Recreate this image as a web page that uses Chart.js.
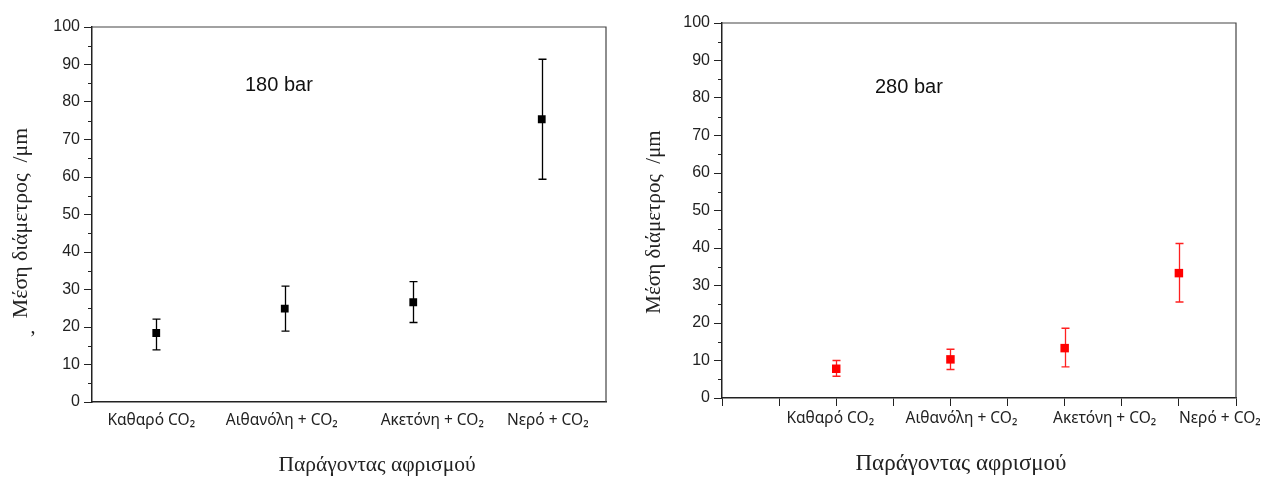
<!DOCTYPE html>
<html><head><meta charset="utf-8">
<script src="https://cdn.jsdelivr.net/npm/chart.js@4"></script>
<style>
html,body{margin:0;padding:0;background:#fff;width:1263px;height:480px;overflow:hidden}
canvas{position:absolute;top:0}
#c1{left:0}
#c2{left:630px}
</style></head><body>
<canvas id="c1" width="630" height="480"></canvas>
<canvas id="c2" width="633" height="480"></canvas>
<script>
// ---- data ----
const categories = ['Καθαρό CO₂', 'Αιθανόλη + CO₂', 'Ακετόνη + CO₂', 'Νερό + CO₂'];
const mean180 = [18.4, 24.9, 26.6, 75.4];
const low180  = [13.9, 18.9, 21.2, 59.4];
const high180 = [22.1, 30.9, 32.1, 91.4];
const mean280 = [7.8, 10.3, 13.3, 33.3];
const low280  = [5.8, 7.6, 8.3, 25.6];
const high280 = [10.0, 13.0, 18.6, 41.2];
const slots280 = [2, 4, 6, 8];          // category slot on the 280 bar axis (0..9)
const yTitle = 'Μέση διάμετρος  /μm';
const xTitle = 'Παράγοντας αφρισμού';
const panelLabels = ['180 bar', '280 bar'];

// ---- styles ----
const INK = '#222';
const labelShift180 = [-5, -3, 19, 6];     // horizontal nudge of category labels (px)
const labelShift280 = [-6, 11, 40, 41];
const SERIF = '"Liberation Serif", "Times New Roman", serif';
const SANS = '"Liberation Sans", Arial, sans-serif';
const LABEL_FONT = '15.5px "Noto Sans", "Open Sans", sans-serif';

// ---- plugins ----
const errorBars = {
  id: 'errorBars',
  beforeDatasetsDraw(chart, args, o) {
    const {ctx} = chart, ys = chart.scales.y;
    const meta = chart.getDatasetMeta(0);
    ctx.save();
    ctx.strokeStyle = o.color; ctx.lineWidth = o.width;
    meta.data.forEach((pt, i) => {
      const x = Math.round(pt.x) + 0.5;
      const yl = ys.getPixelForValue(o.low[i]), yh = ys.getPixelForValue(o.high[i]);
      ctx.beginPath();
      ctx.moveTo(x, yl); ctx.lineTo(x, yh);
      ctx.moveTo(x - o.cap, yl); ctx.lineTo(x + o.cap, yl);
      ctx.moveTo(x - o.cap, yh); ctx.lineTo(x + o.cap, yh);
      ctx.stroke();
    });
    ctx.restore();
  }
};
const frame = {
  id: 'frame',
  afterDraw(chart, args, o) {
    const {ctx, chartArea: a} = chart, ys = chart.scales.y, xs = chart.scales.x;
    ctx.save();
    ctx.strokeStyle = '#444'; ctx.lineWidth = 1.2;
    ctx.beginPath();
    ctx.moveTo(a.left, a.top); ctx.lineTo(a.right, a.top); ctx.lineTo(a.right, a.bottom);
    ctx.stroke();
    // minor ticks on y
    ctx.strokeStyle = INK; ctx.lineWidth = 1;
    ctx.beginPath();
    for (let v = 5; v < 100; v += 10) {
      const y = Math.round(ys.getPixelForValue(v)) + 0.5;
      ctx.moveTo(a.left - o.minor, y); ctx.lineTo(a.left, y);
    }
    ctx.stroke();
    // panel label
    ctx.fillStyle = '#111';
    ctx.font = '20px ' + SANS;
    ctx.textBaseline = 'middle';
    ctx.fillText(o.label, a.left + o.lx, a.top + o.ly);
    // category labels
    ctx.font = LABEL_FONT; ctx.textAlign = 'center'; ctx.fillStyle = INK;
    categories.forEach((c, i) => {
      ctx.fillText(c, xs.getPixelForValue(o.slots ? o.slots[i] : i) + o.shift[i], a.bottom + o.labelDy);
    });
    // axis titles
    ctx.fillStyle = '#222';
    ctx.font = o.xtSize + 'px ' + SERIF;
    ctx.fillText(xTitle, o.xtX, o.xtY);
    ctx.save();
    ctx.translate(o.ytX, o.ytY); ctx.rotate(-Math.PI / 2);
    ctx.font = o.ytSize + 'px ' + SERIF;
    ctx.fillText(yTitle, 0, 0);
    ctx.restore();
    if (o.stray) {
      ctx.font = '20px ' + SERIF;
      ctx.fillText(',', o.stray[0], o.stray[1]);
    }
    ctx.restore();
  }
};

function yScale(widthPx) {
  return {
    type: 'linear', min: 0, max: 100,
    afterFit(s) { s.width = widthPx; },
    ticks: { stepSize: 10, color: INK, padding: 4, font: {family: SANS, size: 16} },
    grid: { drawOnChartArea: false, drawTicks: true, tickLength: 8, color: INK, lineWidth: 1 },
    border: { display: true, color: INK, width: 1.5 },
    title: { display: false }
  };
}

// ---- chart 1: 180 bar ----
new Chart(document.getElementById('c1'), {
  type: 'line',
  data: {
    labels: categories,
    datasets: [{
      data: mean180, showLine: false,
      pointStyle: 'rect', pointRadius: 5.5, pointBackgroundColor: '#000', pointBorderColor: '#000', pointBorderWidth: 0
    }]
  },
  options: {
    responsive: false, animation: false,
    layout: { padding: {left: 0, right: 24, top: 27, bottom: 0} },
    plugins: {
      legend: {display: false}, tooltip: {enabled: false},
      errorBars: {low: low180, high: high180, color: '#000', width: 1.3, cap: 4},
      frame: {minor: 4, label: panelLabels[0], lx: 153, ly: 58,
              shift: labelShift180, labelDy: 19,
              xtSize: 21.5, xtX: 377, xtY: 465,
              ytSize: 21.8, ytX: 21, ytY: 223, stray: [33, 328]}
    },
    scales: {
      x: {
        type: 'category', offset: true,
        afterFit(s) { s.height = 78; },
        grid: { display: false, drawTicks: false },
        border: { display: true, color: INK, width: 1.5 },
        ticks: { display: false }
      },
      y: yScale(92)
    }
  },
  plugins: [errorBars, frame]
});

// ---- chart 2: 280 bar ----
new Chart(document.getElementById('c2'), {
  type: 'scatter',
  data: {
    datasets: [{
      data: mean280.map((v, i) => ({x: slots280[i], y: v})),
      pointStyle: 'rect', pointRadius: 6, pointBackgroundColor: '#ff0000', pointBorderColor: '#ff0000', pointBorderWidth: 0
    }]
  },
  options: {
    responsive: false, animation: false,
    layout: { padding: {left: 0, right: 27, top: 23, bottom: 0} },
    plugins: {
      legend: {display: false}, tooltip: {enabled: false},
      errorBars: {low: low280, high: high280, color: '#ff2020', width: 1.3, cap: 4},
      frame: {minor: 4, label: panelLabels[1], lx: 153, ly: 64,
              slots: slots280, shift: labelShift280, labelDy: 21,
              xtSize: 23, xtX: 331, xtY: 464,
              ytSize: 21, ytX: 24.5, ytY: 222}
    },
    scales: {
      x: {
        type: 'linear', min: 0, max: 9,
        afterFit(s) { s.height = 82; },
        grid: { drawOnChartArea: false, drawTicks: true, tickLength: 8, color: INK },
        border: { display: true, color: INK, width: 1.5 },
        ticks: { stepSize: 1, autoSkip: false, display: false }
      },
      y: yScale(92)
    }
  },
  plugins: [errorBars, frame]
});
</script>
</body></html>
